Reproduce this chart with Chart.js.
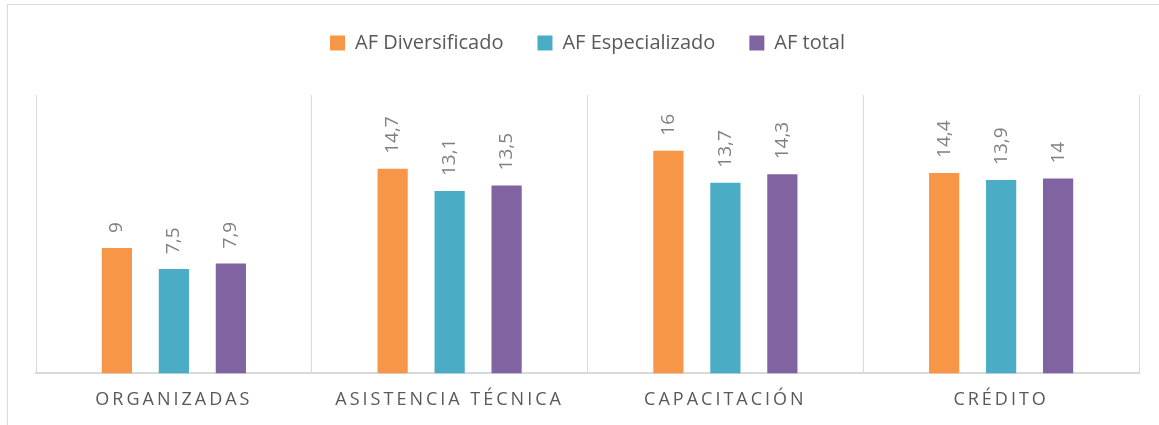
<!DOCTYPE html>
<html>
<head>
<meta charset="utf-8">
<script src="https://cdn.jsdelivr.net/npm/chart.js@4.4.0/dist/chart.umd.min.js"></script>
<style>
  html, body { margin: 0; padding: 0; background: #fff; overflow: hidden; }
  #frame {
    position: absolute; left: 7px; top: 4px; width: 2000px; height: 2000px;
    border: 1px solid #d9d9d9; box-sizing: border-box;
  }
  #wrap { position: absolute; left: 0; top: 0; width: 1159px; height: 425px; }
</style>
</head>
<body>
<div id="frame"></div>
<div id="wrap"><canvas id="chart" width="1159" height="425"></canvas></div>
<script>
const categories = ["ORGANIZADAS", "ASISTENCIA TÉCNICA", "CAPACITACIÓN", "CRÉDITO"];
const diversificado = [9, 14.7, 16, 14.4];
const especializado = [7.5, 13.1, 13.7, 13.9];
const total = [7.9, 13.5, 14.3, 14];
const seriesNames = ["AF Diversificado", "AF Especializado", "AF total"];
const seriesColors = ["#F79646", "#4BACC6", "#8064A2"];

const fmt = (v) => String(v).replace(".", ",");

// rotated value labels above each bar, plus letter spacing for the axis labels
const barLabels = {
  id: "barLabels",
  afterInit(chart) {
    const fit = chart.legend.fit;
    chart.legend.fit = function () {
      fit.call(this);
      this.height += 32;
    };
  },
  afterDatasetsDraw(chart) {
    const ctx = chart.ctx;
    ctx.save();
    ctx.font = "19px 'Open Sans'";
    ctx.fillStyle = "#808080";
    ctx.textAlign = "left";
    ctx.textBaseline = "middle";
    chart.data.datasets.forEach((ds, i) => {
      chart.getDatasetMeta(i).data.forEach((bar, j) => {
        ctx.save();
        ctx.translate(bar.x, bar.y - 15);
        ctx.rotate(-Math.PI / 2);
        ctx.fillText(fmt(ds.data[j]), 0, 0);
        ctx.restore();
      });
    });
    ctx.restore();
    ctx.letterSpacing = "3px";
  },
  afterDraw(chart) {
    chart.ctx.letterSpacing = "0px";
  },
};

const ctx = document.getElementById("chart").getContext("2d");
const chart = new Chart(ctx, {
  type: "bar",
  data: {
    labels: categories,
    datasets: [
      { label: seriesNames[0], data: diversificado, backgroundColor: seriesColors[0] },
      { label: seriesNames[1], data: especializado, backgroundColor: seriesColors[1] },
      { label: seriesNames[2], data: total, backgroundColor: seriesColors[2] },
    ],
  },
  options: {
    responsive: false,
    animation: false,
    layout: { padding: { left: 36, right: 20, top: -1, bottom: -2 } },
    datasets: {
      bar: { categoryPercentage: 0.62, barPercentage: 0.53 },
    },
    scales: {
      x: {
        grid: { color: "#d9d9d9", lineWidth: 1, drawTicks: false, offset: true },
        border: { color: "#d9d9d9", width: 2 },
        ticks: {
          z: 1,
          padding: 16,
          color: "#595959",
          font: { family: "'Open Sans'", size: 18 },
        },
      },
      y: {
        display: false,
        min: 0,
        max: 20,
      },
    },
    plugins: {
      legend: {
        position: "top",
        labels: {
          boxWidth: 15,
          boxHeight: 15,
          padding: 34,
          color: "#595959",
          font: { family: "'Open Sans'", size: 20 },
        },
      },
      tooltip: { enabled: false },
    },
  },
  plugins: [barLabels],
});
</script>
</body>
</html>
